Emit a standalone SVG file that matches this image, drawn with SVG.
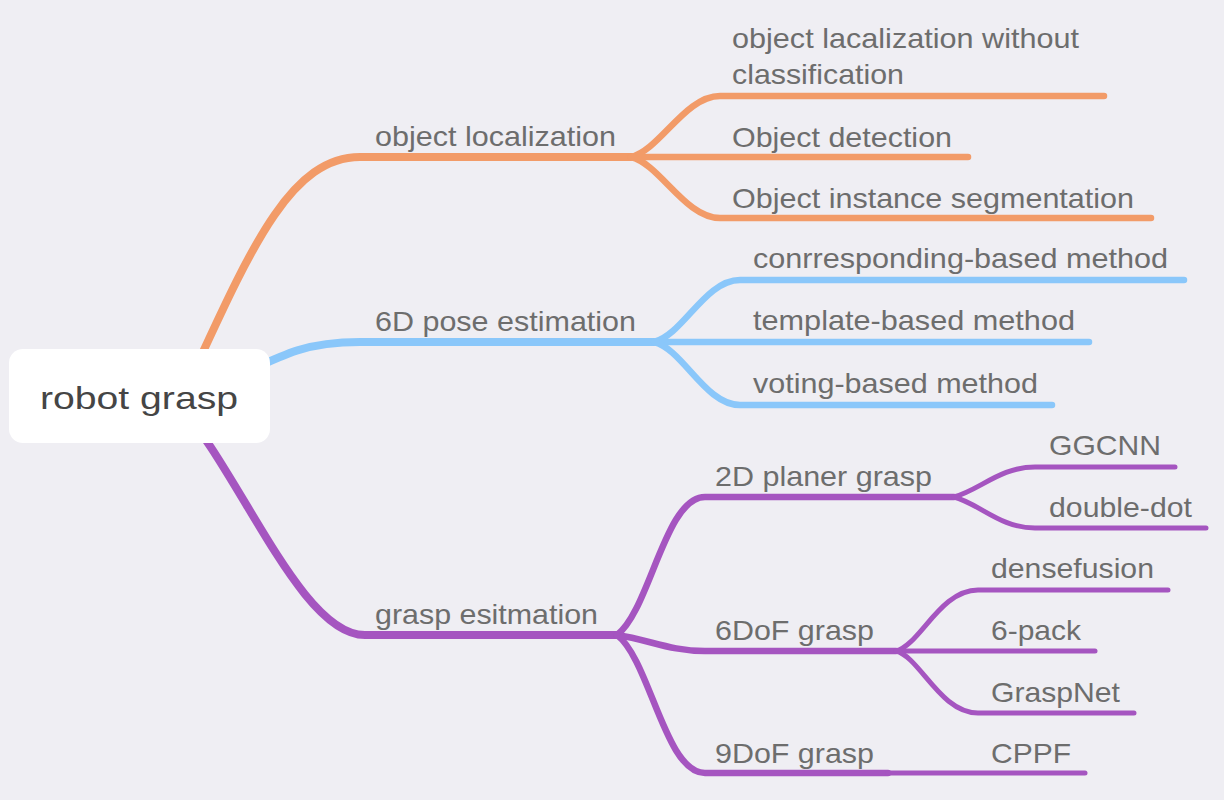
<svg xmlns="http://www.w3.org/2000/svg" width="1224" height="800" viewBox="0 0 1224 800">
<style>
.bg{fill:#efeef3}
.c{fill:none;stroke-linecap:round;stroke-linejoin:round}
.o{stroke:#f29b68}
.b{stroke:#8ac7fa}
.p{stroke:#a555c0}
.w1{stroke-width:8}
.w2{stroke-width:6.5}
.w3{stroke-width:5}
text{font-family:"Liberation Sans",Arial,sans-serif;font-size:28px;fill:#6d6d6d}
.root text{font-size:31.5px;fill:#454545}
</style>
<rect class="bg" x="0" y="0" width="1224" height="800"/>
<g id="connectors">
  <path class="c o w1" d="M190,380 C250,250 290,157 360,157 H631"/>
  <path class="c b w1" d="M220,385 C290,350 310,342 360,342 H654"/>
  <path class="c p w1" d="M175,400 C240,470 300,635 365,635 H617"/>
  <path class="c o w2" d="M631,157 C660,150 685,96 720,96 H1104"/>
  <path class="c o w2" d="M631,157 H968"/>
  <path class="c o w2" d="M631,157 C660,164 685,218 720,218 H1151"/>
  <path class="c b w2" d="M654,342 C683,335 705,280 740,280 H1184"/>
  <path class="c b w2" d="M654,342 H1089"/>
  <path class="c b w2" d="M654,342 C683,349 705,405 740,405 H1052"/>
  <path class="c p w2" d="M617,635 C650,610 665,497 705,497 H954"/>
  <path class="c p w2" d="M617,635 C650,640 670,651 705,651 H896"/>
  <path class="c p w2" d="M617,635 C650,660 665,773 705,773 H888"/>
  <path class="c p w3" d="M954,497 C980,490 1000,467 1035,467 H1175"/>
  <path class="c p w3" d="M954,497 C980,504 1000,528 1035,528 H1206"/>
  <path class="c p w3" d="M896,651 C920,645 940,590 978,590 H1168"/>
  <path class="c p w3" d="M896,651 H1095"/>
  <path class="c p w3" d="M896,651 C920,657 940,713 978,713 H1134"/>
  <path class="c p w3" d="M888,773 H1085"/>
</g>
<g id="node-root" class="root">
  <rect x="9" y="349" width="261" height="94" rx="14" fill="#ffffff"/>
  <text x="40" y="409" textLength="198" lengthAdjust="spacingAndGlyphs">robot grasp</text>
</g>
<g id="node-object-localization"><text x="375" y="146" textLength="241" lengthAdjust="spacingAndGlyphs">object localization</text></g>
<g id="node-6d-pose"><text x="375" y="331" textLength="261" lengthAdjust="spacingAndGlyphs">6D pose estimation</text></g>
<g id="node-grasp-estimation"><text x="375" y="624" textLength="223" lengthAdjust="spacingAndGlyphs">grasp esitmation</text></g>
<g id="node-olwc">
  <text x="732" y="48" textLength="347" lengthAdjust="spacingAndGlyphs">object lacalization without</text>
  <text x="732" y="84" textLength="172" lengthAdjust="spacingAndGlyphs">classification</text>
</g>
<g id="node-object-detection"><text x="732" y="147" textLength="220" lengthAdjust="spacingAndGlyphs">Object detection</text></g>
<g id="node-instance-seg"><text x="732" y="208" textLength="402" lengthAdjust="spacingAndGlyphs">Object instance segmentation</text></g>
<g id="node-corr"><text x="753" y="268" textLength="415" lengthAdjust="spacingAndGlyphs">conrresponding-based method</text></g>
<g id="node-template"><text x="753" y="330" textLength="322" lengthAdjust="spacingAndGlyphs">template-based method</text></g>
<g id="node-voting"><text x="753" y="393" textLength="285" lengthAdjust="spacingAndGlyphs">voting-based method</text></g>
<g id="node-2d"><text x="715" y="486" textLength="217" lengthAdjust="spacingAndGlyphs">2D planer grasp</text></g>
<g id="node-6dof"><text x="715" y="640" textLength="159" lengthAdjust="spacingAndGlyphs">6DoF grasp</text></g>
<g id="node-9dof"><text x="715" y="763" textLength="159" lengthAdjust="spacingAndGlyphs">9DoF grasp</text></g>
<g id="node-ggcnn"><text x="1049" y="455" textLength="112" lengthAdjust="spacingAndGlyphs">GGCNN</text></g>
<g id="node-double-dot"><text x="1049" y="517" textLength="143" lengthAdjust="spacingAndGlyphs">double-dot</text></g>
<g id="node-densefusion"><text x="991" y="578" textLength="163" lengthAdjust="spacingAndGlyphs">densefusion</text></g>
<g id="node-6pack"><text x="991" y="640" textLength="90" lengthAdjust="spacingAndGlyphs">6-pack</text></g>
<g id="node-graspnet"><text x="991" y="702" textLength="129" lengthAdjust="spacingAndGlyphs">GraspNet</text></g>
<g id="node-cppf"><text x="991" y="763" textLength="80" lengthAdjust="spacingAndGlyphs">CPPF</text></g>
</svg>
